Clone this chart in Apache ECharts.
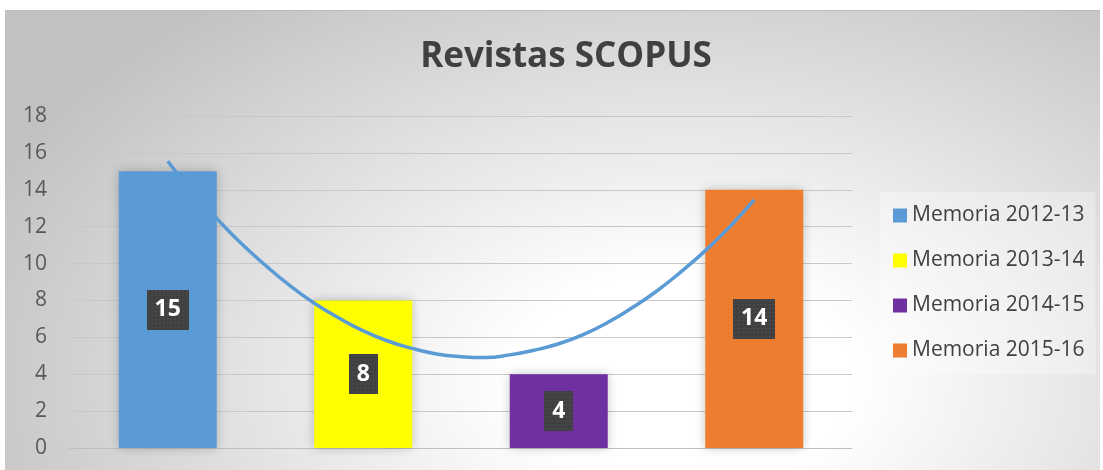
<!DOCTYPE html>
<html>
<head>
<meta charset="utf-8">
<script src="https://cdn.jsdelivr.net/npm/echarts@6/dist/echarts.min.js"></script>
<style>
html,body{margin:0;padding:0;background:#fff;}
#bg{position:absolute;left:5px;top:10px;width:1095px;height:460px;border-top:1px solid #bdbdbd;
background:radial-gradient(ellipse 70% 105% at 62% 80%, #ffffff 0%, #ffffff 22%, #c1c1c1 100%);}
#chart{position:absolute;left:0;top:0;width:1103px;height:470px;}
</style>
</head>
<body>
<div id="bg"></div>
<div id="chart"></div>
<script>
var title = 'Revistas SCOPUS';
var categories = ['Memoria 2012-13', 'Memoria 2013-14', 'Memoria 2014-15', 'Memoria 2015-16'];
var values = [15, 8, 4, 14];
var colors = ['#5B9BD5', '#FFFF00', '#7030A0', '#ED7D31'];
var yTicks = [0, 2, 4, 6, 8, 10, 12, 14, 16, 18];
// trend curve (x in category units, 1..4)
var trendX = [1, 1.125, 1.25, 1.375, 1.5, 1.625, 1.75, 1.875, 2, 2.125, 2.25, 2.375, 2.5,
              2.625, 2.75, 2.875, 3, 3.125, 3.25, 3.375, 3.5, 3.625, 3.75, 3.875, 4];
var trendY = [15.55, 13.9, 12.45, 11.1, 9.9, 8.8, 7.85, 7.05, 6.35, 5.8, 5.4, 5.1, 4.95,
              4.9, 5.05, 5.3, 5.65, 6.15, 6.8, 7.6, 8.5, 9.55, 10.7, 12.0, 13.45];

// dotted dark label background
var pat = document.createElement('canvas');
pat.width = 44; pat.height = 40;
var g = pat.getContext('2d');
g.fillStyle = '#404040'; g.fillRect(0, 0, 44, 40);
g.fillStyle = '#565656';
for (var px = 1; px < 44; px += 4) for (var py = 1; py < 40; py += 4) g.fillRect(px, py, 1.3, 1.3);

var chart = echarts.init(document.getElementById('chart'), null, {renderer: 'canvas'});
var series = categories.map(function (name, i) {
  return {
    name: name, type: 'bar', stack: 'all', barWidth: 98, z: 2,
    data: categories.map(function (c, j) { return j === i ? values[i] : '-'; }),
    itemStyle: {color: colors[i], shadowBlur: 10, shadowColor: 'rgba(0,0,0,0.22)'},
    label: {
      show: true, position: 'inside', formatter: '{c}',
      color: '#fff', fontFamily: 'Open Sans', fontWeight: 'bold', fontSize: 23, lineHeight: 24,
      backgroundColor: {image: pat}, padding: [8, 8, 8, 8],
      shadowColor: 'rgba(0,0,0,0.55)', shadowBlur: 6, shadowOffsetX: 3, shadowOffsetY: 3
    },
    emphasis: {disabled: true}
  };
});
series.push({
  name: 'trend', type: 'line', xAxisIndex: 1, smooth: true, symbol: 'none', z: 3,
  lineStyle: {color: '#5B9BD5', width: 3.5},
  data: trendX.map(function (x, i) { return [x, trendY[i]]; })
});

chart.setOption({
  backgroundColor: 'transparent',
  animation: false,
  title: {text: title, left: 561, textAlign: 'center', top: 35,
    textStyle: {fontFamily: 'Open Sans', fontWeight: 'bold', fontSize: 35, color: '#404040'}},
  legend: {
    data: categories, orient: 'vertical', left: 880, top: 192, padding: [13, 11, 13, 13],
    itemWidth: 14, itemHeight: 14, itemGap: 24, icon: 'rect',
    backgroundColor: 'rgba(255,255,255,0.3)',
    textStyle: {fontFamily: 'Open Sans', fontSize: 21, lineHeight: 21, color: '#404040'}
  },
  grid: {left: 70, right: 251, top: 116, bottom: 22, containLabel: false},
  xAxis: [
    {type: 'category', data: categories, axisLabel: {show: false}, axisTick: {show: false},
     axisLine: {lineStyle: {color: '#bfbfbf', width: 1}}},
    {type: 'value', min: 0.5, max: 4.5, show: false}
  ],
  yAxis: {
    type: 'value', min: yTicks[0], max: yTicks[yTicks.length - 1], interval: 2,
    axisLine: {show: false}, axisTick: {show: false},
    axisLabel: {margin: 23, fontFamily: 'Open Sans', fontSize: 21, color: '#595959'},
    splitLine: {lineStyle: {color: '#c8c8c8', width: 1}}
  },
  series: series
});
</script>
</body>
</html>
